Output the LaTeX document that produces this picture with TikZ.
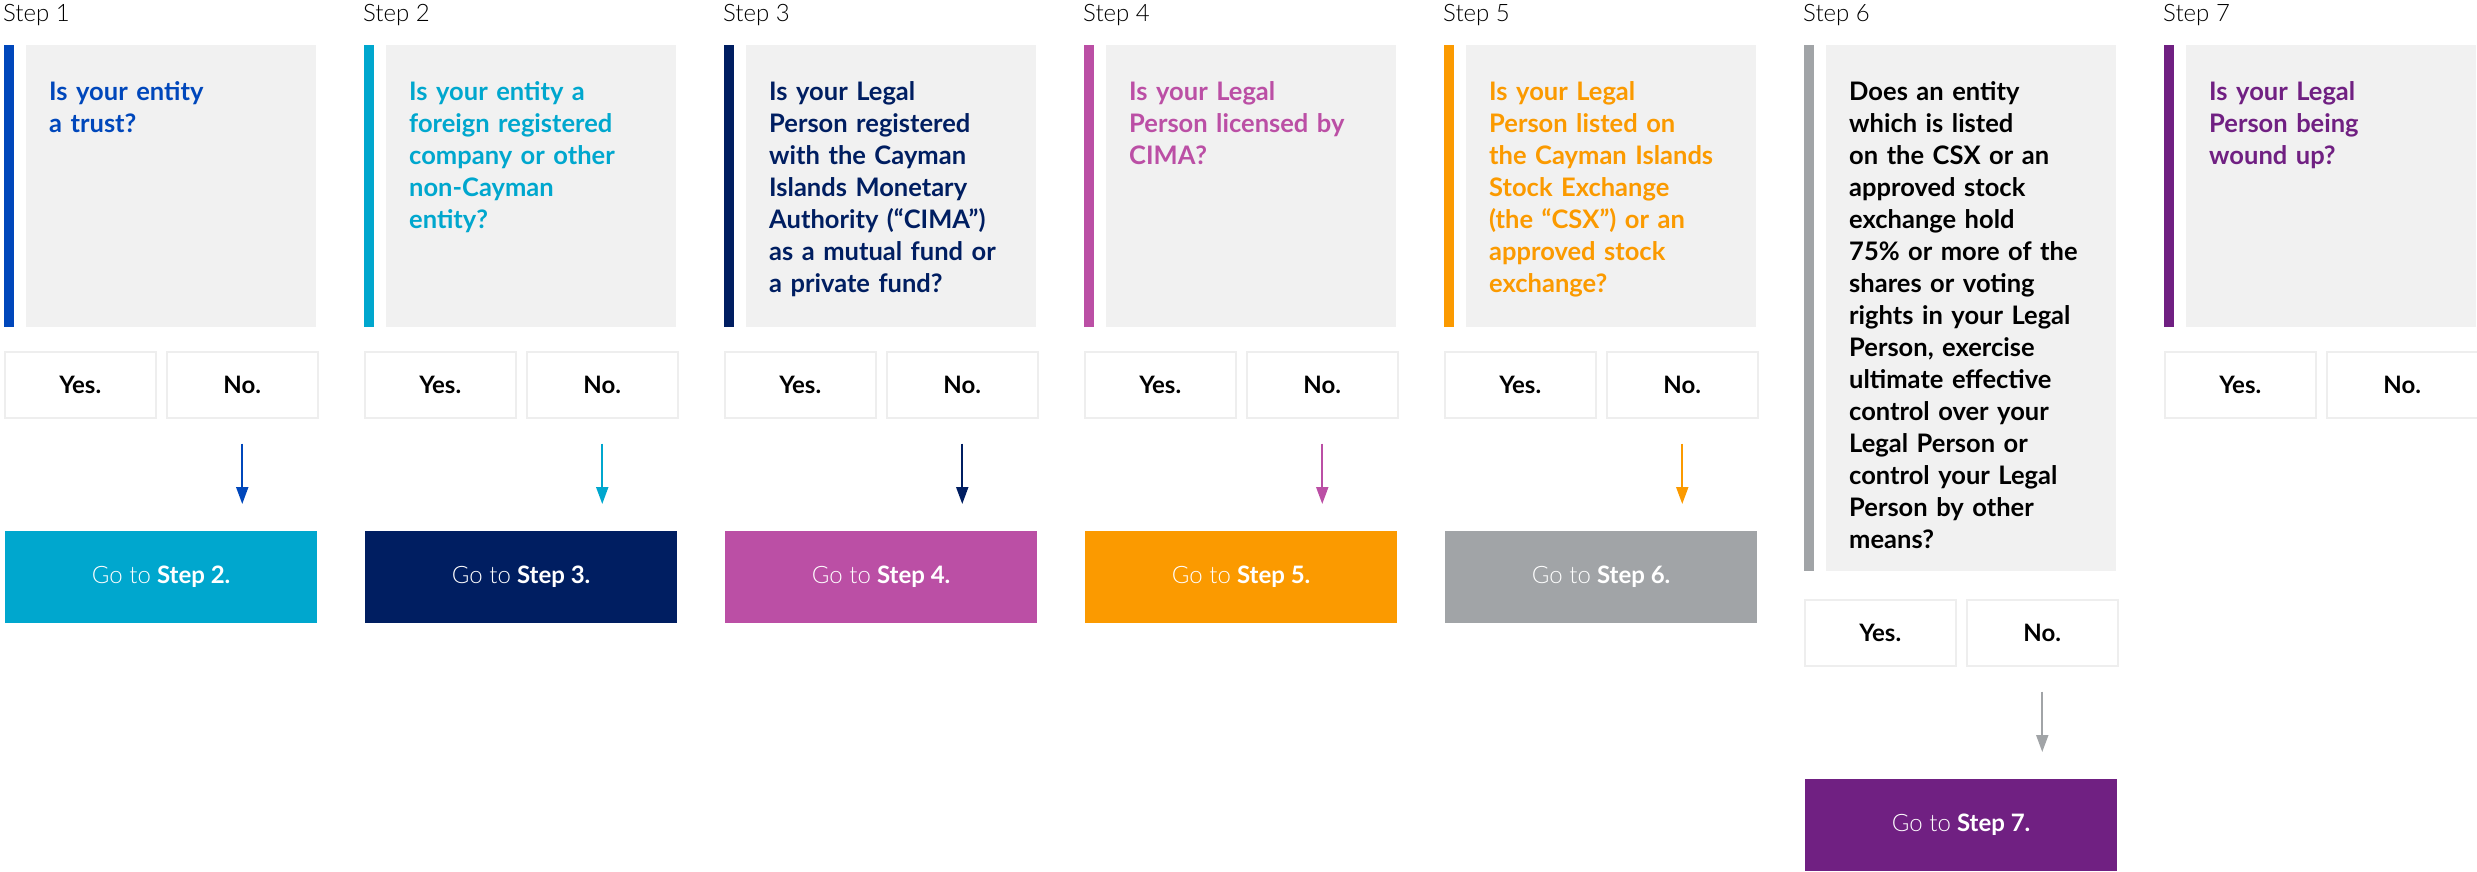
\documentclass[tikz,border=0pt]{standalone}
\usepackage{fontspec}
\setmainfont{Lato}
\newfontfamily\lightfont{Lato}[UprightFont=* Light]
\usetikzlibrary{arrows.meta}
\definecolor{cA}{HTML}{0047BB}
\definecolor{cB}{HTML}{00A7CE}
\definecolor{cC}{HTML}{001E61}
\definecolor{cD}{HTML}{BB4FA5}
\definecolor{cE}{HTML}{FB9A00}
\definecolor{cF}{HTML}{A1A4A7}
\definecolor{cG}{HTML}{702082}
\definecolor{qgrey}{HTML}{F1F1F1}
\definecolor{ynborder}{HTML}{EEEEEE}
\tikzset{
  steplabel/.style={anchor=base west, inner sep=0pt, font=\lightfont\fontsize{24}{28}\selectfont, text=black},
  sidebar/.style={anchor=north west, inner sep=0pt, minimum width=10pt, minimum height=282pt, fill=#1},
  qbox/.style={anchor=north west, inner sep=0pt, minimum width=290pt, minimum height=282pt, fill=qgrey},
  qtext/.style={anchor=base west, inner sep=0pt, text width=268pt, align=left, font=\bfseries\fontsize{25.5}{32}\selectfont, text=#1},
  ynbox/.style={anchor=north west, inner sep=0pt, minimum width=151pt, minimum height=66pt, draw=ynborder, line width=1.5pt, font=\bfseries\fontsize{24}{28}\selectfont},
  gobox/.style={anchor=north west, inner sep=0pt, minimum width=312pt, minimum height=92pt, fill=#1, text=white, font=\fontsize{24}{28}\selectfont},
  flow/.style={draw=#1, line width=2pt, -{Triangle[length=17pt,width=12pt,fill=#1]}, shorten <=25pt, shorten >=27pt},
}
\newcommand{\goto}[1]{{\lightfont Go to} \textbf{Step #1.}}
\begin{document}
\begin{tikzpicture}[x=1pt,y=-1pt]
\useasboundingbox (0,0) rectangle (2477,872);
% Step 1
\node[steplabel] (s1) at (3,22) {Step 1};
\node[sidebar=cA] (bar1) at (4,45) {};
\node[qbox] (q1) at (26,45) {};
\node[qtext=cA] (t1) at (49,101) {Is your entity\\a trust?};
\node[ynbox] (y1) at (4,351) {Yes.};
\node[ynbox] (n1) at (166,351) {No.};
\node[gobox=cB] (g1) at (5,531) {\goto{2}};
\draw[flow=cA] (n1.south) -- (n1.south |- g1.north);
% Step 2
\node[steplabel] (s2) at (363,22) {Step 2};
\node[sidebar=cB] (bar2) at (364,45) {};
\node[qbox] (q2) at (386,45) {};
\node[qtext=cB] (t2) at (409,101) {Is your entity a\\foreign registered\\company or other\\non-Cayman\\entity?};
\node[ynbox] (y2) at (364,351) {Yes.};
\node[ynbox] (n2) at (526,351) {No.};
\node[gobox=cC] (g2) at (365,531) {\goto{3}};
\draw[flow=cB] (n2.south) -- (n2.south |- g2.north);
% Step 3
\node[steplabel] (s3) at (723,22) {Step 3};
\node[sidebar=cC] (bar3) at (724,45) {};
\node[qbox] (q3) at (746,45) {};
\node[qtext=cC] (t3) at (769,101) {Is your Legal\\Person registered\\with the Cayman\\Islands Monetary\\Authority (“CIMA”)\\as a mutual fund or\\a private fund?};
\node[ynbox] (y3) at (724,351) {Yes.};
\node[ynbox] (n3) at (886,351) {No.};
\node[gobox=cD] (g3) at (725,531) {\goto{4}};
\draw[flow=cC] (n3.south) -- (n3.south |- g3.north);
% Step 4
\node[steplabel] (s4) at (1083,22) {Step 4};
\node[sidebar=cD] (bar4) at (1084,45) {};
\node[qbox] (q4) at (1106,45) {};
\node[qtext=cD] (t4) at (1129,101) {Is your Legal\\Person licensed by\\CIMA?};
\node[ynbox] (y4) at (1084,351) {Yes.};
\node[ynbox] (n4) at (1246,351) {No.};
\node[gobox=cE] (g4) at (1085,531) {\goto{5}};
\draw[flow=cD] (n4.south) -- (n4.south |- g4.north);
% Step 5
\node[steplabel] (s5) at (1443,22) {Step 5};
\node[sidebar=cE] (bar5) at (1444,45) {};
\node[qbox] (q5) at (1466,45) {};
\node[qtext=cE] (t5) at (1489,101) {Is your Legal\\Person listed on\\the Cayman Islands\\Stock Exchange\\(the “CSX”) or an\\approved stock\\exchange?};
\node[ynbox] (y5) at (1444,351) {Yes.};
\node[ynbox] (n5) at (1606,351) {No.};
\node[gobox=cF] (g5) at (1445,531) {\goto{6}};
\draw[flow=cE] (n5.south) -- (n5.south |- g5.north);
% Step 6
\node[steplabel] (s6) at (1803,22) {Step 6};
\node[sidebar=cF, minimum height=526pt] (bar6) at (1804,45) {};
\node[qbox, minimum height=526pt] (q6) at (1826,45) {};
\node[qtext=black] (t6) at (1849,101) {Does an entity\\which is listed\\on the CSX or an\\approved stock\\exchange hold\\75\% or more of the\\shares or voting\\rights in your Legal\\Person, exercise\\ultimate effective\\control over your\\Legal Person or\\control your Legal\\Person by other\\means?};
\node[ynbox] (y6) at (1804,599) {Yes.};
\node[ynbox] (n6) at (1966,599) {No.};
\node[gobox=cG] (g6) at (1805,779) {\goto{7}};
\draw[flow=cF] (n6.south) -- (n6.south |- g6.north);
% Step 7
\node[steplabel] (s7) at (2163,22) {Step 7};
\node[sidebar=cG] (bar7) at (2164,45) {};
\node[qbox] (q7) at (2186,45) {};
\node[qtext=cG] (t7) at (2209,101) {Is your Legal\\Person being\\wound up?};
\node[ynbox] (y7) at (2164,351) {Yes.};
\node[ynbox] (n7) at (2326,351) {No.};
\end{tikzpicture}
\end{document}
